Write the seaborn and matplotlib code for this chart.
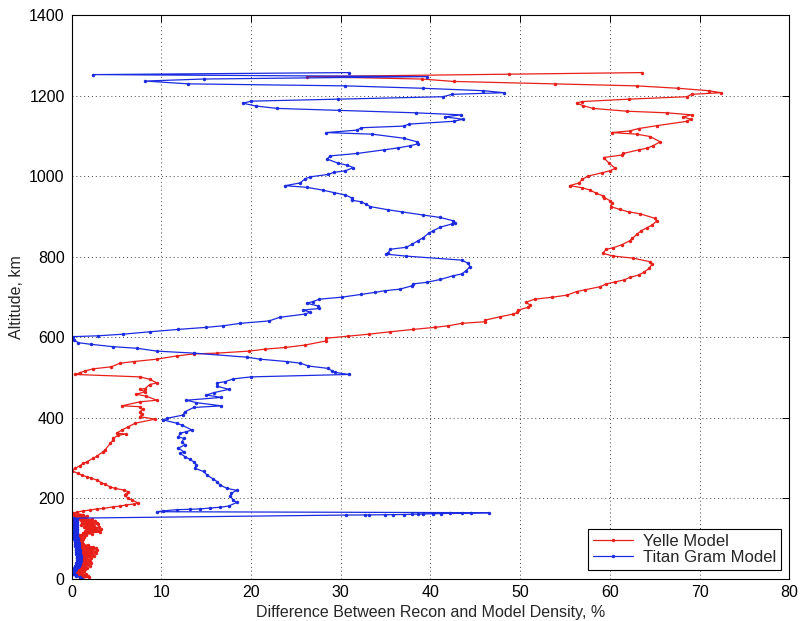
import matplotlib
matplotlib.use("Agg")
import matplotlib.pyplot as plt
import numpy as np
import pandas as pd
import seaborn as sns

# ---------------- data ----------------
yelle_alt = [
    1257, 1253, 1247, 1241, 1235, 1229, 1224, 1218, 1212, 1207,
    1203, 1197, 1191, 1185, 1181, 1175, 1168, 1161, 1157, 1152,
    1147, 1141, 1136, 1125, 1118, 1112, 1108, 1104, 1098, 1085,
    1075, 1069, 1065, 1056, 1052, 1046, 1032, 1019, 1013, 1008,
    1000, 992, 983, 976, 971, 965, 957, 951, 946, 939,
    932, 924, 917, 911, 906, 895, 888, 878, 871, 864,
    855, 845, 839, 829, 822, 818, 808, 801, 796, 787,
    781, 771, 761, 754, 748, 742, 737, 732, 725, 717,
    713, 704, 699, 694, 686, 680, 674, 667, 661, 657,
    650, 642, 638, 634, 628, 624, 619, 613, 607, 602,
    597, 590, 580, 574, 570, 565, 560, 558, 553, 545,
    539, 535, 526, 521, 516, 511, 507, 501, 495, 486,
    482, 472, 470, 464, 458, 453, 443, 439, 429, 427,
    420, 414, 408, 402, 396, 386, 377, 369, 361, 359,
    356, 348, 343, 336, 319, 315, 304, 299, 290, 286,
    280, 274, 268, 261, 257, 253, 249, 245, 238, 234,
    228, 224, 220, 216, 210, 208, 199, 195, 188, 185,
    183, 180, 178, 174, 173, 170, 168, 165, 162,
]
yelle_diff = [
    63.6, 48.7, 26.2, 39.0, 42.6, 53.9, 63.0, 67.6, 71.0, 72.4,
    69.1, 68.6, 62.1, 56.9, 56.3, 57.0, 58.1, 61.9, 66.4, 69.1,
    68.2, 69.0, 68.6, 65.2, 63.2, 62.2, 60.2, 63.0, 64.5, 65.6,
    64.8, 64.1, 63.2, 61.5, 61.3, 59.3, 59.9, 60.6, 60.0, 59.1,
    57.6, 56.9, 56.6, 55.5, 56.9, 57.8, 58.5, 59.2, 59.4, 60.0,
    60.2, 60.1, 61.1, 62.1, 63.4, 65.0, 65.2, 64.7, 64.1, 63.5,
    63.0, 62.5, 62.2, 61.3, 60.4, 59.6, 59.2, 60.4, 62.6, 64.5,
    64.7, 64.4, 63.8, 63.2, 62.2, 61.6, 60.6, 59.6, 58.9, 57.2,
    56.3, 55.2, 53.6, 51.6, 50.6, 51.1, 50.9, 49.8, 49.7, 49.2,
    47.7, 46.1, 46.1, 43.5, 42.0, 40.5, 38.1, 35.5, 33.1, 30.8,
    28.4, 28.3, 26.0, 23.8, 21.6, 19.8, 16.2, 13.6, 11.7, 9.5,
    6.9, 5.4, 4.4, 2.4, 1.5, 0.9, 0.4, 7.6, 8.7, 9.5,
    8.7, 8.2, 7.6, 8.2, 7.2, 8.3, 9.5, 7.6, 5.6, 7.6,
    7.9, 7.6, 7.8, 7.6, 9.3, 7.1, 6.3, 5.6, 5.0, 6.1,
    5.2, 4.6, 4.6, 4.3, 3.7, 3.5, 2.8, 2.4, 1.7, 1.3,
    0.9, 0.4, 0.0, 0.7, 1.1, 1.7, 2.2, 2.8, 3.3, 3.7,
    4.3, 4.8, 5.8, 6.3, 6.1, 5.9, 6.3, 6.7, 7.4, 6.9,
    6.1, 5.4, 4.6, 3.5, 2.8, 2.0, 1.3, 0.6, 0.2,
]
# dense low-altitude part of the Yelle curve (below ~160 km)
yelle_low_alt = [
    159, 157, 155, 153, 151, 149, 147, 145, 143, 141,
    139, 137, 135, 133, 131, 129, 127, 125, 123, 121,
    119, 117, 115, 113, 111, 109, 107, 105, 103, 101,
    99, 97, 95, 93, 91, 89, 87, 85, 83, 81,
    79, 77, 75, 73, 71, 69, 67, 65, 63, 61,
    59, 57, 55, 53, 51, 49, 47, 45, 43, 41,
    39, 37, 35, 33, 31, 29, 27, 25, 23, 21,
    19, 17, 15, 13, 11, 9, 7, 5, 3, 1,
]
yelle_low_diff = [
    1.3, 0.3, 1.7, 0.4, 1.5, 0.9, 2.3, 1.0, 2.6, 1.1,
    2.8, 1.2, 2.9, 1.0, 2.5, 1.4, 3.0, 1.6, 3.3, 1.8,
    3.1, 1.5, 3.2, 1.3, 2.3, 0.6, 1.6, 0.5, 1.4, 0.4,
    1.3, 0.6, 1.2, 0.5, 1.1, 0.6, 1.3, 0.7, 1.8, 1.0,
    2.4, 1.1, 2.7, 1.3, 2.8, 1.2, 2.6, 1.4, 2.7, 1.1,
    2.4, 1.0, 2.5, 1.2, 2.2, 0.7, 1.9, 0.8, 2.0, 0.6,
    2.1, 0.9, 1.8, 0.7, 2.0, 0.8, 1.7, 0.6, 1.5, 0.5,
    1.4, 0.6, 1.2, 0.5, 1.6, 0.7, 1.8, 0.9, 1.9, 1.2,
]

gram_alt = [
    1257, 1252, 1247, 1241, 1236, 1229, 1224, 1218, 1212, 1207,
    1203, 1197, 1191, 1186, 1181, 1174, 1168, 1163, 1157, 1152,
    1147, 1141, 1136, 1129, 1124, 1120, 1114, 1108, 1104, 1094,
    1085, 1080, 1075, 1070, 1065, 1056, 1050, 1042, 1032, 1027,
    1021, 1013, 1009, 1004, 998, 993, 983, 976, 972, 965,
    959, 953, 946, 940, 936, 930, 924, 916, 911, 903,
    897, 889, 884, 881, 873, 864, 858, 847, 839, 830,
    823, 818, 809, 806, 801, 791, 783, 775, 765, 757,
    752, 743, 736, 732, 727, 719, 715, 711, 706, 699,
    694, 688, 684, 677, 671, 667, 662, 657, 649, 640,
    634, 628, 624, 619, 613, 607, 603, 601, 593, 586,
    582, 576, 572, 565, 560, 550, 545, 539, 535, 528,
    522, 516, 512, 507, 501, 496, 489, 486, 478, 470,
    462, 456, 450, 443, 437, 429, 425, 414, 406, 398,
    394, 386, 381, 369, 365, 361, 352, 348, 340, 332,
    324, 315, 311, 303, 296, 290, 282, 274, 266, 257,
    247, 241, 233, 224, 219, 212, 204, 195, 189, 180,
    177, 175, 173, 172, 171, 168, 166,
    163.5, 163, 162.5, 162, 161.5, 161, 160.5, 160, 159.5, 159,
    158.7, 158.4, 158.1, 157.9, 157.7,
]
gram_diff = [
    30.9, 2.4, 39.6, 14.7, 8.2, 13.0, 30.5, 39.2, 45.9, 48.2,
    42.4, 41.4, 29.7, 20.0, 19.1, 20.5, 22.9, 29.8, 38.4, 43.4,
    41.6, 43.6, 42.6, 37.6, 37.0, 32.3, 31.8, 28.4, 33.5, 37.0,
    38.5, 38.6, 37.7, 36.4, 34.8, 31.8, 28.8, 28.5, 29.7, 30.7,
    31.4, 30.5, 29.2, 28.6, 26.6, 26.0, 25.5, 23.8, 26.2, 28.0,
    29.2, 30.5, 31.2, 31.2, 32.3, 32.8, 33.3, 35.3, 36.8, 39.2,
    41.1, 42.5, 42.7, 42.4, 41.1, 40.3, 39.8, 39.2, 38.6, 37.9,
    37.3, 35.5, 35.3, 35.0, 37.3, 43.5, 44.2, 44.4, 44.0, 43.5,
    42.5, 41.1, 39.6, 38.1, 37.9, 36.6, 34.9, 33.8, 32.3, 30.1,
    27.6, 26.9, 26.2, 27.5, 27.6, 25.8, 26.6, 26.0, 23.2, 22.0,
    18.8, 16.9, 15.0, 11.9, 8.7, 5.7, 2.9, 0.2, 0.3, 0.7,
    2.1, 4.6, 7.3, 9.5, 13.6, 19.5, 21.0, 24.0, 25.5, 26.4,
    28.6, 29.0, 29.4, 30.9, 20.0, 18.0, 17.1, 16.2, 16.2, 17.5,
    15.9, 15.0, 16.7, 12.8, 13.9, 16.7, 13.6, 12.6, 12.4, 10.6,
    10.2, 11.7, 12.3, 13.4, 12.8, 12.1, 11.9, 12.5, 12.3, 12.6,
    11.9, 12.5, 12.1, 12.6, 13.2, 13.6, 13.9, 13.7, 14.7, 15.1,
    15.8, 16.2, 16.5, 17.3, 18.4, 17.8, 17.7, 18.0, 18.4, 17.5,
    16.5, 15.4, 14.3, 13.2, 11.7, 10.2, 9.5,
    46.5, 44.5, 43.5, 42.2, 41.2, 40.3, 39.2, 38.6, 37.9, 37.0,
    35.8, 34.9, 33.1, 32.7, 30.6,
]
# dense low-altitude part of the Titan Gram curve (below 150 km)
gram_low_alt = [
    150, 148, 146, 144, 142, 140, 138, 136, 134, 132,
    130, 128, 126, 124, 122, 120, 118, 116, 114, 112,
    110, 108, 106, 104, 102, 100, 98, 96, 94, 92,
    90, 88, 86, 84, 82, 80, 78, 76, 74, 72,
    70, 68, 66, 64, 62, 60, 58, 56, 54, 52,
    50, 48, 46, 44, 42, 40, 38, 36, 34, 32,
    30, 28, 26, 24, 22, 20, 18, 16, 14, 12,
    10, 8, 6, 4, 2, 0,
]
gram_low_diff = [
    0.2, 0.6, 0.2, 0.6, 0.2, 0.6, 0.3, 0.6, 0.2, 0.6,
    0.3, 0.6, 0.2, 0.6, 0.3, 0.6, 0.2, 0.6, 0.3, 0.6,
    0.2, 0.6, 0.3, 0.6, 0.3, 0.7, 0.3, 0.7, 0.4, 0.7,
    0.4, 0.8, 0.4, 0.8, 0.4, 0.8, 0.5, 0.8, 0.5, 0.9,
    0.5, 0.9, 0.5, 0.9, 0.5, 0.9, 0.6, 1.0, 0.6, 1.0,
    0.6, 0.9, 0.6, 1.0, 0.6, 0.9, 0.5, 0.9, 0.5, 0.8,
    0.4, 0.7, 0.3, 0.5, 0.2, 0.4, 0.1, 0.3, 0.1, 0.3,
    0.2, 0.5, 0.5, 0.9, 0.9, 1.2,
]

series_names = ["Yelle Model", "Titan Gram Model"]
series_colors = ["#e8201a", "#1a2be0"]
x_ticks = [0, 10, 20, 30, 40, 50, 60, 70, 80]
y_ticks = [0, 200, 400, 600, 800, 1000, 1200, 1400]

assert len(yelle_alt) == len(yelle_diff)
assert len(gram_alt) == len(gram_diff)
assert len(yelle_low_alt) == len(yelle_low_diff)
assert len(gram_low_alt) == len(gram_low_diff)

df = pd.concat([
    pd.DataFrame({"alt": yelle_alt + yelle_low_alt,
                  "diff": yelle_diff + yelle_low_diff,
                  "model": series_names[0]}),
    pd.DataFrame({"alt": gram_alt + gram_low_alt,
                  "diff": gram_diff + gram_low_diff,
                  "model": series_names[1]}),
], ignore_index=True)

# ---------------- style ----------------
sns.set_theme(style="white")
plt.rcParams["font.family"] = ["Liberation Sans", "DejaVu Sans"]
plt.rcParams["font.size"] = 11.5

fig = plt.figure(figsize=(8.0, 6.21), dpi=100)
ax = fig.add_axes([0.0896, 0.0684, 0.8970, 0.9074])

sns.lineplot(
    data=df, x="diff", y="alt", hue="model",
    hue_order=series_names,
    palette=dict(zip(series_names, series_colors)),
    sort=False, estimator=None, legend=False, ax=ax,
    marker=".", markersize=5, markeredgewidth=0, linewidth=0.9,
)

ax.set_xlim(0, 80)
ax.set_ylim(0, 1400)
ax.set_xticks(x_ticks)
ax.set_yticks(y_ticks)
ax.set_xticklabels([str(v) for v in x_ticks])
ax.set_yticklabels([str(v) for v in y_ticks])

ax.grid(True, color="#444444", linestyle=(0, (1, 3)), linewidth=0.7)
ax.set_axisbelow(True)
for sp in ax.spines.values():
    sp.set_visible(True)
    sp.set_color("black")
    sp.set_linewidth(0.8)
ax.tick_params(axis="both", direction="in", length=5, width=0.7,
               top=True, right=True, labelsize=11.5, pad=5, colors="black")

ax.set_xlabel("Difference Between Recon and Model Density, %", fontsize=11.5, labelpad=3)
ax.set_ylabel("Altitude, km", fontsize=11.5, labelpad=4)

handles = ax.lines[:2]
leg = ax.legend(handles=handles, labels=series_names, loc="lower right",
                fontsize=12, frameon=True, fancybox=False, framealpha=1,
                edgecolor="black", borderpad=0.3, labelspacing=0.1,
                handlelength=2.4, handletextpad=0.6, borderaxespad=0.5)
leg.get_frame().set_linewidth(0.8)

fig.savefig("out.png", dpi=100, facecolor="white")
